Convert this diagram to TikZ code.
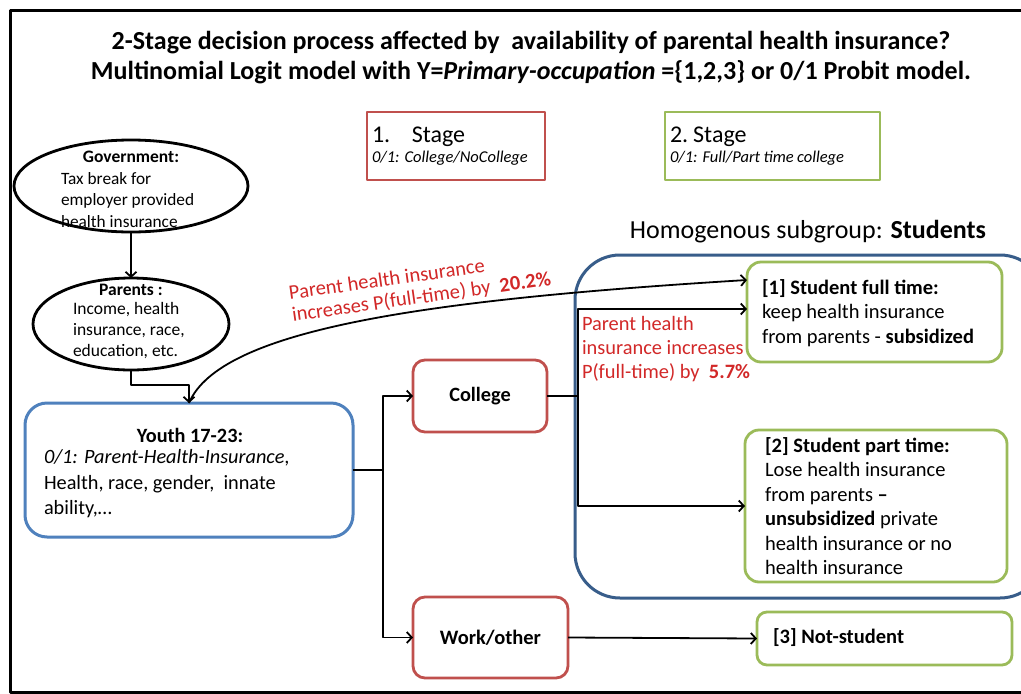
\documentclass[tikz,border=0pt]{standalone}
\usepackage{fontspec}
\setmainfont{Carlito}
\usetikzlibrary{arrows.meta,shapes.geometric,calc}
\definecolor{bred}{RGB}{192,80,77}
\definecolor{bgreen}{RGB}{155,187,89}
\definecolor{bblue}{RGB}{79,129,189}
\definecolor{dblue}{RGB}{56,93,138}
\definecolor{tred}{RGB}{210,40,40}
\newcommand\setfs[2]{\fontsize{#1}{#2}\selectfont}
\begin{document}
\begin{tikzpicture}[x=1pt,y=-1pt,line join=round,
  every node/.style={inner sep=0pt,outer sep=0pt},
  arr/.style={line width=1.8pt,-{Straight Barb[length=5pt,width=11pt,line width=1.8pt]}},
  conn/.style={line width=1.8pt},
  redbox/.style={draw=bred,line width=2.8pt,rounded corners=12pt},
  greenbox/.style={draw=bgreen,line width=2.8pt,rounded corners=14pt},
  ell/.style={draw=black,line width=2.8pt,ellipse},
  txt/.style={align=left,anchor=west},
  redtxt/.style={text=tred,align=left}]
\useasboundingbox (0,0) rectangle (1021,694);
\clip (0,0) rectangle (1021,694);
\fill[white] (0,0) rectangle (1021,694);
% outer frame
\draw[line width=3pt] (10,10) rectangle (1040,692);
% title
\node[font={\setfs{26}{29}\bfseries}] (title1) at (531,43) {2-Stage decision process affected by\ \ availability of parental health insurance?};
\node[font={\setfs{26}{29}\bfseries}] (title2) at (531,72) {Multinomial Logit model with Y=\textit{Primary-occupation} =\{1,2,3\} or 0/1 Probit model.};
% stage boxes
\node[draw=bred,line width=2.8pt,minimum width=178pt,minimum height=68pt,text width=168pt,align=left] (stage1) at (456,146)
  {\setfs{24}{26}1.\hspace{0.9em}Stage\\[3pt]\setfs{16.5}{18}\itshape 0/1: College/NoCollege};
\node[draw=bgreen,line width=2.8pt,minimum width=215pt,minimum height=68pt,text width=205pt,align=left] (stage2) at (772.5,146)
  {\setfs{24}{26}2. Stage\\[3pt]\setfs{16.5}{18}\itshape 0/1: Full/Part time college};
% government ellipse
\node[ell,minimum width=234pt,minimum height=92pt] (gov) at (131,186) {};
\node[font={\setfs{17.5}{21.5}\bfseries}] (govh) at (131,157) {Government:};
\node[txt,font={\setfs{17.3}{21.5}}] (govt) at (61,200) {Tax break for\\employer provided\\health insurance};
% parents ellipse
\node[ell,minimum width=196pt,minimum height=92pt] (par) at (131,324) {};
\node[font={\setfs{17.5}{21}\bfseries}] (parh) at (131,290) {Parents :};
\node[txt,font={\setfs{17.5}{21}}] (part) at (73,331) {Income, health\\insurance, race,\\education, etc.};
% youth
\node[draw=bblue,line width=3pt,rounded corners=22pt,minimum width=328pt,minimum height=134pt] (youth) at (189,470) {};
\node[font={\setfs{20.3}{25.5}\bfseries}] (youthh) at (190,435) {Youth 17-23:};
\node[txt,font={\setfs{20.3}{25.5}}] (youtht) at (44,484) {\textit{0/1: Parent-Health-Insurance},\\Health, race, gender,\ \ innate\\ability,\dots};
% college / work
\node[redbox,minimum width=134pt,minimum height=72pt,font={\setfs{20.3}{24}\bfseries}] (college) at (480,396) {College};
\node[redbox,minimum width=155pt,minimum height=81pt,font={\setfs{20.5}{24}\bfseries}] (work) at (490.5,637.5) {Work/other};
% students group
\draw[draw=dblue,line width=3pt,rounded corners=45pt] (575,255) rectangle (1045,598);
\node[anchor=east,font={\setfs{26}{29}}] (homog) at (986,232) {Homogenous subgroup: \textbf{Students}};
% student boxes
\node[greenbox,minimum width=255pt,minimum height=100pt] (st1) at (874.5,312) {};
\node[txt,font={\setfs{20.5}{24.5}}] (st1t) at (762,313) {\textbf{[1] Student full time:}\\keep health insurance\\from parents - \textbf{subsidized}};
\node[greenbox,minimum width=262pt,minimum height=152pt] (st2) at (876,506) {};
\node[txt,font={\setfs{20.5}{24.4}}] (st2t) at (765,506) {\textbf{[2] Student part time:}\\Lose health insurance\\from parents \textbf{--}\\\textbf{unsubsidized} private\\health insurance or no\\health insurance};
\node[greenbox,rounded corners=10pt,minimum width=255pt,minimum height=53pt] (st3) at (884.5,638.5) {};
\node[txt,font={\setfs{20.5}{24}}] (st3t) at (773,638) {\textbf{[3] Not-student}};
% red labels
\node[redtxt,rotate=8,font={\setfs{20.5}{22}}] (lab1) at (420,287) {Parent health insurance\\increases P(full-time) by\ \ \textbf{20.2\%}};
\node[redtxt,anchor=west,font={\setfs{20.4}{24}}] (lab2) at (582,349) {Parent health\\insurance increases\\P(full-time) by\ \ \textbf{5.7\%}};
% connectors
\draw[arr] (gov.south) -- (par.north);
\coordinate (e1) at (131,385);
\draw[arr] (par.south) -- (e1) -| (youth.north);
\coordinate (st1in) at ($(st1.north west)+(0,18)$);
\draw[arr] (youth.north) .. controls (220,330) and (420,300) .. (st1in);
\coordinate (j1) at (383,470);
\draw[conn] (youth.east) -- (j1);
\draw[arr] (j1) |- (college.west);
\draw[arr] (j1) |- (work.west);
\coordinate (j2) at (578,396);
\draw[conn] (college.east) -- (j2);
\draw[arr] (j2) |- ($(st1.west)+(0,-3)$);
\draw[arr] (j2) |- (st2.west);
\draw[arr] (work.east) -- (st3.west);
\end{tikzpicture}
\end{document}
